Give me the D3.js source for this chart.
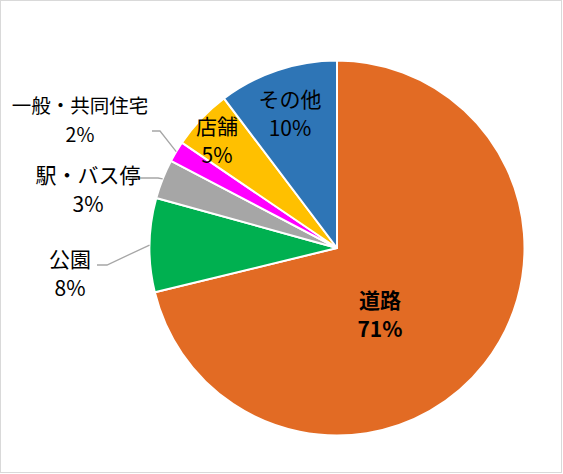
<!DOCTYPE html>
<html>
<head>
<meta charset="utf-8">
<script src="https://cdnjs.cloudflare.com/ajax/libs/d3/7.8.5/d3.min.js"></script>
<style>
  body { margin: 0; background: #fff; }
  text { font-family: "Noto Sans CJK JP", "Noto Sans", sans-serif; fill: #000; }
</style>
</head>
<body>
<div class="pie-chart"></div>
<script>
// data (percent shares, clockwise from 12 o'clock)
var categories = ['道路', '公園', '駅・バス停', '一般・共同住宅', '店舗', 'その他'];
var values = [71.2, 8.1, 3.4, 1.8, 5.2, 10.3];
var pctLabels = ['71%', '8%', '3%', '2%', '5%', '10%'];
var colors = ['#E26B24', '#00B050', '#A6A6A6', '#FF00FF', '#FFC000', '#2E75B6'];

var width = 563, height = 474,
    cx = 337, cy = 248,
    radius = 187.5;

// label layout: offset of the label centre from the pie centre, plus leader elbow for outside ones
var labelLayout = [
  { dx: 43, dy: 65, bold: true },
  { dx: -267, dy: 24, elbow: [-230, 17], end: -240 },
  { dx: -249, dy: -60, elbow: [-179, -70], end: -205 },
  { dx: -257, dy: -129, elbow: [-177, -117], end: -185, size: 19.5 },
  { dx: -120, dy: -109 },
  { dx: -47, dy: -136 }
];

var data = categories.map(function(c, i) {
  return { name: c, value: values[i], pct: pctLabels[i], color: colors[i], lay: labelLayout[i] };
});

var svg = d3.select('.pie-chart').append('svg')
    .attr('width', width).attr('height', height);

svg.append('rect')
    .attr('x', 0.5).attr('y', 0.5)
    .attr('width', 561).attr('height', 472)
    .attr('fill', '#fff')
    .attr('stroke', '#D9D9D9');

var g = svg.append('g').attr('transform', 'translate(' + cx + ',' + cy + ')');

var pie = d3.pie().sort(null).value(function(d) { return d.value; });
var arc = d3.arc().outerRadius(radius).innerRadius(0);
var edgeArc = d3.arc().outerRadius(radius).innerRadius(radius);

var arcs = pie(data);

g.selectAll('.slice').data(arcs).enter().append('path')
    .attr('class', 'slice')
    .attr('d', arc)
    .attr('fill', function(d) { return d.data.color; })
    .attr('stroke', '#fff')
    .attr('stroke-width', 2)
    .attr('stroke-linejoin', 'round');

// leader lines
g.selectAll('.leader').data(arcs.filter(function(d) { return d.data.lay.elbow; }))
  .enter().append('polyline')
    .attr('class', 'leader')
    .attr('points', function(d) {
      var p = edgeArc.centroid(d), e = d.data.lay.elbow;
      return [p, e, [d.data.lay.end, e[1]]].map(function(q) { return q.join(','); }).join(' ');
    })
    .attr('fill', 'none')
    .attr('stroke', '#A6A6A6')
    .attr('stroke-width', 1.3);

var lab = g.selectAll('.lbl').data(arcs).enter().append('text')
    .attr('class', 'lbl')
    .attr('text-anchor', 'middle')
    .style('font-size', function(d) { return (d.data.lay.size || 21) + 'px'; })
    .style('font-weight', function(d) { return d.data.lay.bold ? 'bold' : 'normal'; });

lab.append('tspan')
    .attr('x', function(d) { return d.data.lay.dx; })
    .attr('y', function(d) { return d.data.lay.dy - 14.5; })
    .attr('dominant-baseline', 'central')
    .text(function(d) { return d.data.name; });

lab.append('tspan')
    .attr('x', function(d) { return d.data.lay.dx; })
    .attr('y', function(d) { return d.data.lay.dy + 14.5; })
    .attr('dominant-baseline', 'central')
    .text(function(d) { return d.data.pct; });
</script>
</body>
</html>
